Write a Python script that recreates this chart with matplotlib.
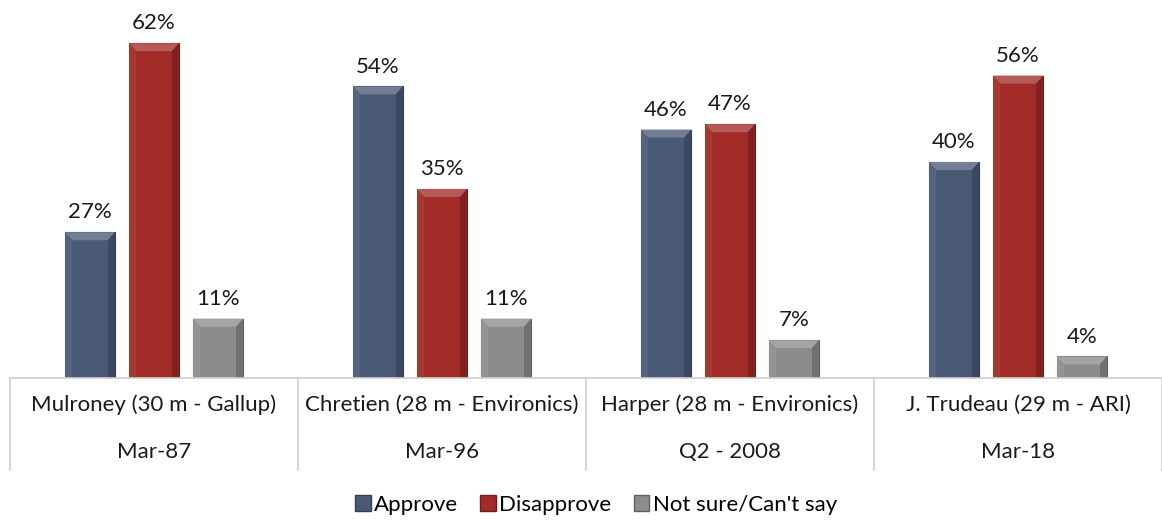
import numpy as np
import matplotlib.pyplot as plt
from matplotlib.patches import Patch, Polygon
import matplotlib.colors as mcolors

# dati
leaders = ['Mulroney (30 m - Gallup)', 'Chretien (28 m - Environics)',
           'Harper (28 m - Environics)', 'J. Trudeau (29 m - ARI)']
dates = ['Mar-87', 'Mar-96', 'Q2 - 2008', 'Mar-18']
series = ['Approve', 'Disapprove', "Not sure/Can't say"]
approve = [27, 54, 46, 40]
disapprove = [62, 35, 47, 56]
not_sure = [11, 11, 7, 4]

colors = ['#4A5A76', '#A02B27', '#8C8C8C']


def shade(c, f):
    # f > 0 schiarisce, f < 0 scurisce
    r = np.array(mcolors.to_rgb(c))
    if f > 0:
        return tuple(r + (1 - r) * f)
    return tuple(r * (1 + f))


plt.rcParams['font.family'] = ['Lato', 'DejaVu Sans']
fs = 16

fig = plt.figure(figsize=(11.62, 5.2), dpi=100)
ax = fig.add_axes([10 / 1162, (520 - 378) / 520, 1 - 10 / 1162, 378 / 520])

ax.set_xlim(-0.5, len(leaders) - 0.5)
ax.set_ylim(0, 70)
ax.axis('off')

x = np.arange(len(leaders))
offsets = [-0.222, 0, 0.222]
w = 0.174
# effetto smussato: dimensione in pixel convertita in unità dati
bx = 7 * 4 / 1152
by = 8 * 70 / 378
for vals, off, c in zip([approve, disapprove, not_sure], offsets, colors):
    bars = ax.bar(x + off, vals, w, color=c, edgecolor=shade(c, -0.3), linewidth=0.8)
    for b, v in zip(bars, vals):
        x0, x1 = b.get_x(), b.get_x() + b.get_width()
        ax.add_patch(Polygon([[x0, v], [x1, v], [x1 - bx, v - by], [x0 + bx, v - by]],
                             closed=True, color=shade(c, 0.22), lw=0))
        ax.add_patch(Polygon([[x1, v], [x1, 0], [x1 - bx, 0], [x1 - bx, v - by]],
                             closed=True, color=shade(c, -0.2), lw=0))
        ax.add_patch(Polygon([[x0, v], [x0, 0], [x0 + bx, 0], [x0 + bx, v - by]],
                             closed=True, color=shade(c, 0.06), lw=0))
        ax.annotate(f'{v}%', ((x0 + x1) / 2, v),
                    xytext=(0, 7), textcoords='offset points',
                    ha='center', va='bottom', fontsize=fs, color='#1a1a1a')

# tabella delle categorie sotto l'asse
line_c = '#D0D0D0'
ax.plot([-0.5, len(leaders) - 0.5], [0, 0], color=line_c, lw=1.2, clip_on=False)
trans = ax.get_xaxis_transform()
for i in range(len(leaders) + 1):
    ax.plot([i - 0.5, i - 0.5], [0, -92 / 378], color=line_c, lw=1.2,
            transform=trans, clip_on=False)
for i in range(len(leaders)):
    ax.text(i, -27 / 378, leaders[i], transform=trans, ha='center', va='center',
            fontsize=fs, color='#1a1a1a')
    ax.text(i, -74 / 378, dates[i], transform=trans, ha='center', va='center',
            fontsize=fs, color='#1a1a1a')

handles = [Patch(facecolor=c, edgecolor=shade(c, -0.3)) for c in colors]
fig.legend(handles, series, loc='center', bbox_to_anchor=(596 / 1162, 1 - 505 / 520),
           ncol=3, frameon=False, fontsize=fs, handlelength=0.7, handleheight=0.7,
           handletextpad=0.15, columnspacing=1.0)

fig.savefig('out.png', dpi=100)
